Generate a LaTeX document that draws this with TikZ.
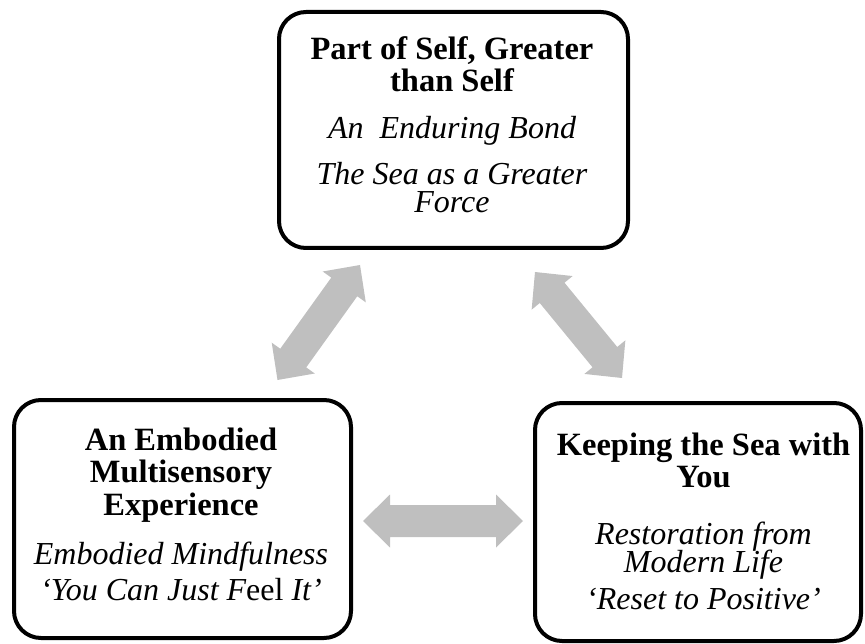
\documentclass[tikz,border=0pt]{standalone}
\usepackage{fontspec}
\setmainfont{Liberation Serif}
\usetikzlibrary{calc}
\definecolor{arrowgray}{RGB}{191,191,191}
\tikzset{
  themebox/.style={draw=black, line width=4pt, rounded corners=27pt, fill=white, inner sep=0pt},
  headline/.style={font=\fontsize{32.5}{32}\selectfont\bfseries, anchor=base, inner sep=0pt, text height=21pt, text depth=6pt},
  subline/.style={font=\fontsize{32}{32}\selectfont\itshape, anchor=base, inner sep=0pt, text height=21pt, text depth=6pt},
}
\newcommand\blockarrow[2]{%
  \fill[arrowgray] (#1)
   -- ($(#1)!27pt!(#2)!26.5pt!90:(#2)$)
   -- ($(#1)!27pt!(#2)!16pt!90:(#2)$)
   -- ($(#2)!27pt!(#1)!16pt!-90:(#1)$)
   -- ($(#2)!27pt!(#1)!26.5pt!-90:(#1)$)
   -- (#2)
   -- ($(#2)!27pt!(#1)!26.5pt!90:(#1)$)
   -- ($(#2)!27pt!(#1)!16pt!90:(#1)$)
   -- ($(#1)!27pt!(#2)!16pt!-90:(#2)$)
   -- ($(#1)!27pt!(#2)!26.5pt!-90:(#2)$)
   -- cycle;}
\begin{document}
\begin{tikzpicture}[x=1pt,y=-1pt]
\useasboundingbox (0,0) rectangle (865,644);
% boxes
\node[themebox, minimum width=349pt, minimum height=236pt] (top) at (453.5,130) {};
\node[themebox, minimum width=337pt, minimum height=238pt] (left) at (182.5,519) {};
\node[themebox, minimum width=326pt, minimum height=238pt] (right) at (698,522) {};
% top texts
\node[headline] (top1) at (452,60) {Part of Self, Greater};
\node[headline] (top2) at (452,92) {than Self};
\node[subline] (top3) at (452,139) {An~~Enduring Bond};
\node[subline] (top4) at (452,185) {The Sea as a Greater};
\node[subline] (top5) at (452,213) {Force};
% left texts
\node[headline] (left1) at (181,450) {An Embodied};
\node[headline] (left2) at (181,482) {Multisensory};
\node[headline] (left3) at (181,515) {Experience};
\node[subline] (left4) at (181,564) {Embodied Mindfulness};
\node[subline] (left5) at (181,600) {‘You Can Just F\upshape eel \itshape It’};
% right texts
\node[headline] (right1) at (703.5,455) {Keeping the Sea with};
\node[headline] (right2) at (703.5,487) {You};
\node[subline] (right3) at (703.5,544) {Restoration from};
\node[subline] (right4) at (703.5,572) {Modern Life};
\node[subline] (right5) at (703.5,609) {‘Reset to Positive’};
% arrow ends
\coordinate (lda) at ($(left.north)+(95,-18)$);
\coordinate (ldb) at ($(top.south)+(-93.5,15)$);
\coordinate (rda) at ($(top.south)+(81.5,22)$);
\coordinate (rdb) at ($(right.north)+(-76,-23)$);
\coordinate (ha) at ($(left.east)+(10,2)$);
\coordinate (hb) at ($(right.west)+(-10,-1)$);
\blockarrow{lda}{ldb}
\blockarrow{rda}{rdb}
\blockarrow{ha}{hb}
\end{tikzpicture}
\end{document}
